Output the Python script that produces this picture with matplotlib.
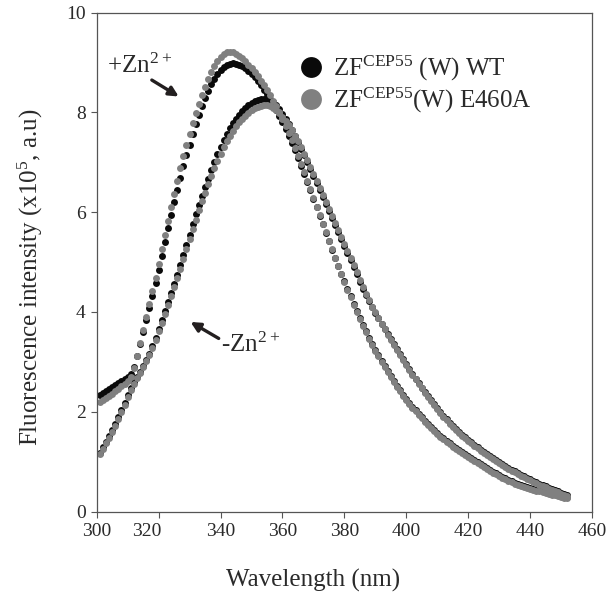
import numpy as np
import matplotlib
matplotlib.use("Agg")
import matplotlib.pyplot as plt
from matplotlib.lines import Line2D
from matplotlib.transforms import ScaledTranslation

plt.rcParams['font.family'] = ['Liberation Serif', 'DejaVu Serif']
plt.rcParams['mathtext.default'] = 'regular'

# wavelength grid of the scans (nm)
wavelength = np.arange(301, 453)

# ZF-CEP55 (W) WT with Zn2+
wt_zn = [
    2.33, 2.37, 2.41, 2.45, 2.49, 2.53, 2.57, 2.61, 2.65, 2.70,
    2.76, 2.90, 3.12, 3.36, 3.60, 3.84, 4.08, 4.32, 4.58, 4.85,
    5.13, 5.41, 5.69, 5.95, 6.20, 6.45, 6.69, 6.92, 7.14, 7.35,
    7.56, 7.76, 7.95, 8.13, 8.29, 8.44, 8.57, 8.68, 8.78, 8.86,
    8.92, 8.96, 8.98, 8.99, 8.98, 8.96, 8.93, 8.89, 8.84, 8.78,
    8.71, 8.63, 8.55, 8.46, 8.37, 8.27, 8.16, 8.05, 7.93, 7.80,
    7.67, 7.53, 7.39, 7.24, 7.09, 6.93, 6.77, 6.61, 6.44, 6.27,
    6.10, 5.93, 5.76, 5.59, 5.42, 5.25, 5.09, 4.93, 4.77, 4.62,
    4.47, 4.32, 4.17, 4.02, 3.88, 3.74, 3.61, 3.48, 3.36, 3.24,
    3.13, 3.02, 2.91, 2.81, 2.71, 2.61, 2.52, 2.43, 2.34, 2.26,
    2.18, 2.10, 2.03, 1.96, 1.89, 1.82, 1.76, 1.70, 1.64, 1.58,
    1.52, 1.47, 1.42, 1.37, 1.32, 1.28, 1.24, 1.20, 1.16, 1.12,
    1.08, 1.04, 1.00, 0.96, 0.92, 0.88, 0.84, 0.80, 0.77, 0.73,
    0.70, 0.67, 0.64, 0.61, 0.58, 0.56, 0.54, 0.52, 0.50, 0.48,
    0.46, 0.44, 0.43, 0.41, 0.39, 0.38, 0.36, 0.35, 0.33, 0.32,
    0.30, 0.29,
]

# ZF-CEP55 (W) E460A with Zn2+
mut_zn = [
    2.20, 2.24, 2.28, 2.32, 2.36, 2.41, 2.46, 2.51, 2.56, 2.62,
    2.70, 2.88, 3.12, 3.38, 3.64, 3.90, 4.16, 4.42, 4.69, 4.97,
    5.26, 5.55, 5.83, 6.10, 6.37, 6.63, 6.88, 7.12, 7.35, 7.57,
    7.78, 7.98, 8.17, 8.35, 8.52, 8.67, 8.81, 8.93, 9.03, 9.11,
    9.17, 9.21, 9.22, 9.21, 9.18, 9.14, 9.09, 9.03, 8.96, 8.89,
    8.81, 8.73, 8.64, 8.55, 8.45, 8.35, 8.24, 8.12, 8.00, 7.87,
    7.73, 7.59, 7.44, 7.29, 7.13, 6.97, 6.80, 6.63, 6.46, 6.29,
    6.11, 5.94, 5.77, 5.60, 5.43, 5.26, 5.09, 4.92, 4.76, 4.60,
    4.45, 4.30, 4.15, 4.00, 3.86, 3.72, 3.59, 3.46, 3.34, 3.22,
    3.11, 3.00, 2.89, 2.79, 2.69, 2.59, 2.50, 2.41, 2.32, 2.24,
    2.16, 2.08, 2.01, 1.94, 1.87, 1.80, 1.74, 1.68, 1.62, 1.56,
    1.50, 1.45, 1.40, 1.35, 1.30, 1.26, 1.22, 1.18, 1.14, 1.10,
    1.06, 1.02, 0.98, 0.94, 0.90, 0.86, 0.82, 0.78, 0.75, 0.71,
    0.68, 0.65, 0.62, 0.59, 0.56, 0.54, 0.52, 0.50, 0.48, 0.46,
    0.44, 0.42, 0.41, 0.39, 0.37, 0.36, 0.34, 0.33, 0.31, 0.30,
    0.28, 0.27,
]

# ZF-CEP55 (W) WT without Zn2+
wt_apo = [
    1.18, 1.29, 1.40, 1.51, 1.63, 1.76, 1.89, 2.03, 2.18, 2.34,
    2.48, 2.60, 2.70, 2.80, 2.91, 3.03, 3.16, 3.31, 3.48, 3.66,
    3.84, 4.02, 4.20, 4.38, 4.56, 4.75, 4.94, 5.14, 5.34, 5.55,
    5.76, 5.96, 6.15, 6.33, 6.50, 6.67, 6.84, 7.00, 7.16, 7.31,
    7.45, 7.57, 7.68, 7.78, 7.87, 7.95, 8.02, 8.08, 8.14, 8.19,
    8.23, 8.26, 8.28, 8.28, 8.27, 8.25, 8.21, 8.14, 8.06, 7.97,
    7.87, 7.76, 7.64, 7.52, 7.40, 7.27, 7.14, 7.00, 6.86, 6.72,
    6.58, 6.44, 6.30, 6.16, 6.02, 5.88, 5.74, 5.60, 5.46, 5.32,
    5.18, 5.04, 4.90, 4.76, 4.61, 4.46, 4.34, 4.22, 4.10, 3.98,
    3.87, 3.76, 3.65, 3.55, 3.45, 3.35, 3.25, 3.15, 3.05, 2.95,
    2.85, 2.75, 2.66, 2.57, 2.48, 2.39, 2.31, 2.23, 2.15, 2.07,
    1.99, 1.92, 1.85, 1.78, 1.72, 1.66, 1.60, 1.54, 1.49, 1.44,
    1.39, 1.34, 1.29, 1.24, 1.19, 1.15, 1.11, 1.07, 1.03, 0.99,
    0.95, 0.91, 0.87, 0.84, 0.81, 0.77, 0.74, 0.71, 0.68, 0.65,
    0.62, 0.59, 0.56, 0.53, 0.51, 0.48, 0.46, 0.43, 0.41, 0.38,
    0.36, 0.34,
]

# ZF-CEP55 (W) E460A without Zn2+
mut_apo = [
    1.15, 1.26, 1.37, 1.48, 1.60, 1.72, 1.85, 1.99, 2.14, 2.29,
    2.43, 2.56, 2.67, 2.78, 2.89, 3.01, 3.14, 3.28, 3.44, 3.61,
    3.78, 3.96, 4.14, 4.32, 4.50, 4.68, 4.87, 5.06, 5.26, 5.46,
    5.66, 5.85, 6.04, 6.22, 6.39, 6.56, 6.72, 6.88, 7.03, 7.17,
    7.30, 7.42, 7.53, 7.63, 7.72, 7.80, 7.87, 7.93, 7.99, 8.04,
    8.08, 8.11, 8.13, 8.14, 8.14, 8.12, 8.09, 8.04, 7.98, 7.91,
    7.83, 7.74, 7.64, 7.53, 7.42, 7.30, 7.17, 7.04, 6.90, 6.76,
    6.62, 6.48, 6.34, 6.20, 6.06, 5.92, 5.78, 5.64, 5.50, 5.36,
    5.22, 5.08, 4.94, 4.80, 4.65, 4.50, 4.37, 4.24, 4.11, 3.99,
    3.87, 3.76, 3.65, 3.54, 3.44, 3.34, 3.24, 3.14, 3.04, 2.94,
    2.84, 2.74, 2.65, 2.56, 2.47, 2.38, 2.29, 2.21, 2.13, 2.05,
    1.97, 1.90, 1.83, 1.76, 1.70, 1.64, 1.58, 1.52, 1.47, 1.42,
    1.37, 1.32, 1.27, 1.22, 1.17, 1.13, 1.09, 1.05, 1.01, 0.97,
    0.93, 0.89, 0.85, 0.82, 0.79, 0.75, 0.72, 0.69, 0.66, 0.63,
    0.60, 0.57, 0.54, 0.51, 0.49, 0.46, 0.44, 0.41, 0.39, 0.36,
    0.34, 0.32,
]

legend_labels = ["ZF$^{CEP55}$ (W) WT", "ZF$^{CEP55}$(W) E460A"]
BLACK = "#0a0a0a"
GRAY = "#808080"
TXT = "#2a2a2a"

fig = plt.figure(figsize=(6.06, 6.0), dpi=100)
ax = fig.add_axes([0.1596, 0.1475, 0.8174, 0.8313])

ms = 5.0
ax.plot(wavelength, wt_zn, 'o', ms=ms, color=BLACK, mec='none')
ax.plot(wavelength, wt_apo, 'o', ms=ms, color=BLACK, mec='none')
ax.plot(wavelength, mut_zn, 'o', ms=ms, color=GRAY, mec='none')
ax.plot(wavelength, mut_apo, 'o', ms=ms, color=GRAY, mec='none')

ax.set_xlim(300, 460)
ax.set_ylim(0, 10)
ax.set_xticks(np.arange(300, 461, 20))
ax.set_yticks(np.arange(0, 11, 2))
ax.tick_params(direction='out', length=4, width=0.8, color='#555555',
               labelsize=14, labelcolor=TXT, pad=4)
for sp in ax.spines.values():
    sp.set_color('#555555')
    sp.set_linewidth(0.9)

# the "320" label sits left of its tick in the original
lbl = ax.get_xticklabels()[1]
lbl.set_transform(lbl.get_transform() + ScaledTranslation(-0.12, 0, fig.dpi_scale_trans))

ax.set_xlabel("Wavelength (nm)", fontsize=18, color=TXT)
ax.set_ylabel("Fluorescence intensity (x10$^{5}$, a.u)", fontsize=18, color=TXT)
ax.xaxis.set_label_coords(0.437, -0.115)
ax.yaxis.set_label_coords(-0.104, 0.47)

# annotations
ax.text(303.3, 8.79, "+Zn$^{2+}$", fontsize=18, color=TXT, va='baseline')
ax.annotate("", xy=(326.5, 8.32), xytext=(317.8, 8.65),
            arrowprops=dict(arrowstyle='-|>', lw=2.4, color='#231f20',
                            mutation_scale=14, shrinkA=0, shrinkB=0))
ax.text(340.0, 3.20, "-Zn$^{2+}$", fontsize=18, color=TXT, va='baseline')
ax.annotate("", xy=(330.3, 3.80), xytext=(339.4, 3.47),
            arrowprops=dict(arrowstyle='-|>', lw=2.4, color='#231f20',
                            mutation_scale=14, shrinkA=0, shrinkB=0))

handles = [Line2D([], [], ls='', marker='o', ms=15, color=BLACK, mec='none'),
           Line2D([], [], ls='', marker='o', ms=15, color=GRAY, mec='none')]
ax.legend(handles, legend_labels, loc='upper left', bbox_to_anchor=(0.493, 0.910),
          bbox_transform=fig.transFigure, frameon=False, fontsize=18,
          handlelength=1.0, handletextpad=0.35, labelspacing=0.1, borderpad=0,
          borderaxespad=0, labelcolor=TXT)

fig.savefig("out.png", dpi=100)
